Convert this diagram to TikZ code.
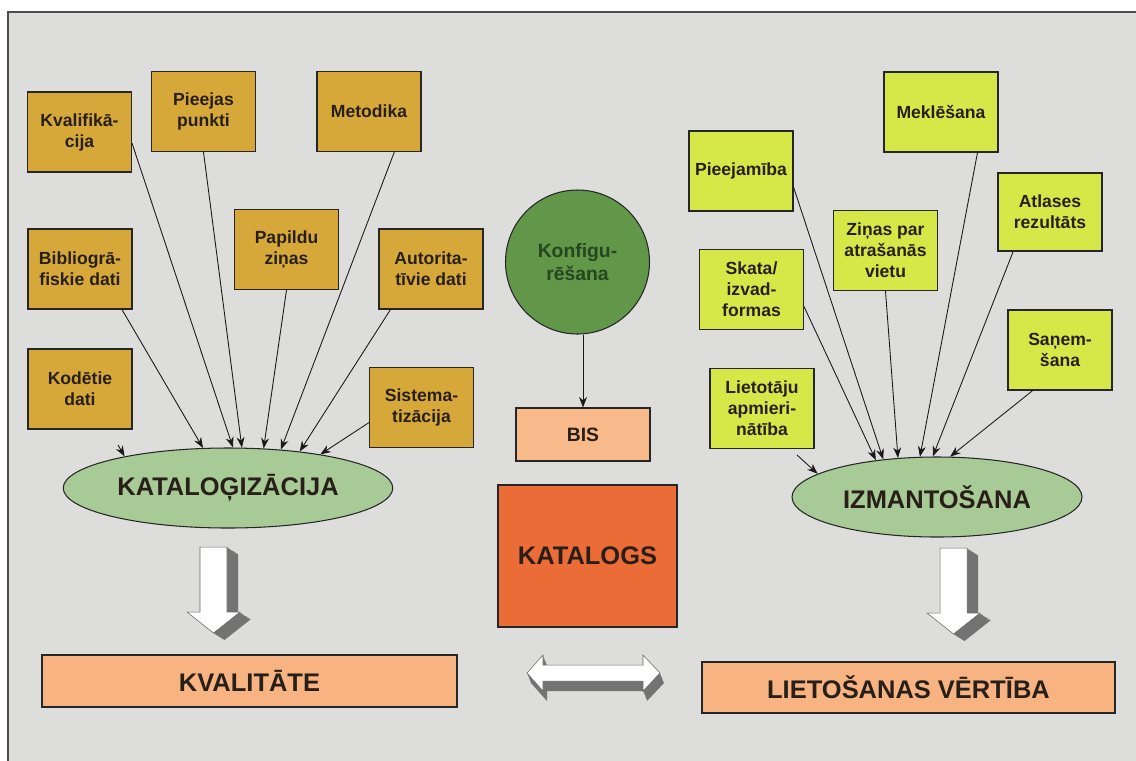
\documentclass[tikz,border=0pt]{standalone}
\usepackage{fontspec}
\setmainfont{Liberation Sans}
\usetikzlibrary{shapes.geometric,arrows.meta}

\definecolor{panelgray}{RGB}{221,221,219}
\definecolor{goldbox}{RGB}{214,168,58}
\definecolor{limebox}{RGB}{214,232,72}
\definecolor{ellgreen}{RGB}{168,202,150}
\definecolor{konfgreen}{RGB}{98,150,72}
\definecolor{konftext}{RGB}{38,70,32}
\definecolor{bisorange}{RGB}{248,186,138}
\definecolor{katorange}{RGB}{236,108,56}
\definecolor{resorange}{RGB}{247,180,130}
\definecolor{inkdark}{RGB}{40,32,24}

\tikzset{
  katbox/.style={draw=black!85, line width=0.6pt, fill=goldbox, minimum width=2.08cm,
    minimum height=1.6cm, align=center, inner sep=1pt, text=inkdark,
    font=\bfseries\fontsize{10}{12}\selectfont},
  izmbox/.style={katbox, fill=limebox},
  process/.style={ellipse, draw=black!85, line width=0.6pt, fill=ellgreen, minimum width=5.82cm,
    minimum height=1.6cm, text=inkdark, font=\bfseries\fontsize{14.5}{17}\selectfont},
  resbox/.style={draw=black!85, line width=0.6pt, fill=resorange, minimum width=8.3cm,
    minimum height=1.04cm, text=inkdark, font=\bfseries\fontsize{14.5}{17}\selectfont},
  feed/.style={-{Stealth[length=6pt,width=4.5pt]}, line width=0.5pt, black!90},
  arrowfront/.style={fill=white, draw=black!60, line width=0.3pt},
  arrowside/.style={fill=black!55}
}

% 3D block arrow pointing down, shaft top-left at (#1,#2)
\newcommand{\blockdown}[2]{%
  \foreach \s in {10,9,...,1}
    \fill[arrowside, shift={({#1+0.022*\s},{#2-0.014*\s})}]
      (0,0) -- (0.54,0) -- (0.54,-1.3) -- (0.8,-1.3) -- (0.27,-1.72) -- (-0.26,-1.3) -- (0,-1.3) -- cycle;
  \filldraw[arrowfront, shift={(#1,#2)}]
      (0,0) -- (0.54,0) -- (0.54,-1.3) -- (0.8,-1.3) -- (0.27,-1.72) -- (-0.26,-1.3) -- (0,-1.3) -- cycle;
}

\begin{document}
\begin{tikzpicture}
  \useasboundingbox (0,0) rectangle (22.72,-15.2);
  \fill[panelgray] (0.16,-0.24) rectangle (23,-15.5);
  \draw[black!70, line width=0.8pt] (0.16,-15.5) -- (0.16,-0.24) -- (23,-0.24);

  % left side
  \node[katbox] (kval) at (1.59,-2.64) {Kvalifikā-\\cija};
  \node[katbox] (piee) at (4.07,-2.23) {Pieejas\\punkti};
  \node[katbox] (meto) at (7.38,-2.23) {Metodika};
  \node[katbox] (papi) at (5.73,-4.99) {Papildu\\ziņas};
  \node[katbox] (bibl) at (1.60,-5.38) {Bibliogrā-\\fiskie dati};
  \node[katbox] (auto) at (8.62,-5.38) {Autorita-\\tīvie dati};
  \node[katbox] (kode) at (1.60,-7.78) {Kodētie\\dati};
  \node[katbox] (sist) at (8.43,-8.15) {Sistema-\\tizācija};
  \node[process] (kat) at (4.56,-9.76) {KATALOĢIZĀCIJA};
  \coordinate (kodetip) at (2.36,-8.90);

  \draw[feed] (kval.-12) -- (kat.83);
  \draw[feed] (piee.south) -- (kat.71);
  \draw[feed] (meto.-58) -- (kat.36);
  \draw[feed] (papi.south) -- (kat.48);
  \draw[feed] (bibl.-44) -- (kat.122);
  \draw[feed] (auto.-135) -- (kat.27);
  \draw[feed] (sist.196) -- (kat.20);
  \draw[feed] (kodetip) -- (kat.163);

  % middle
  \node[circle, draw=black!85, line width=0.6pt, fill=konfgreen, minimum size=2.88cm, align=center,
    text=konftext, font=\bfseries\fontsize{11}{13}\selectfont] (konf) at (11.55,-5.24) {Konfigu-\\rēšana};
  \node[draw=black!85, line width=0.6pt, fill=bisorange, minimum width=2.68cm, minimum height=1.06cm,
    text=inkdark, font=\bfseries\fontsize{11}{13}\selectfont] (bis) at (11.66,-8.69) {BIS};
  \node[draw=black!85, line width=0.6pt, fill=katorange, minimum width=3.58cm, minimum height=2.84cm,
    text=inkdark, font=\bfseries\fontsize{14.5}{17}\selectfont] (katalogs) at (11.75,-11.12) {KATALOGS};
  \draw[feed] (bis.north |- konf.south) -- (bis.north);

  % right side
  \node[izmbox] (piej) at (14.82,-3.42) {Pieejamība};
  \node[izmbox, minimum width=2.28cm] (mekl) at (18.82,-2.24) {Meklēšana};
  \node[izmbox] (zina) at (17.71,-5.01) {Ziņas par\\atrašanās\\vietu};
  \node[izmbox, minimum height=1.56cm] (atla) at (21.00,-4.24) {Atlases\\rezultāts};
  \node[izmbox] (skat) at (15.03,-5.79) {Skata/\\izvad-\\formas};
  \node[izmbox] (sane) at (21.20,-7.00) {Saņem-\\šana};
  \node[izmbox] (liet) at (15.24,-8.17) {Lietotāju\\apmieri-\\nātība};
  \node[process, minimum width=5.8cm] (izm) at (18.74,-9.94) {IZMANTOŠANA};
  \coordinate (liettip) at (15.94,-9.10);

  \draw[feed] (piej.-17) -- (izm.145);
  \draw[feed] (skat.-18) -- (izm.149);
  \draw[feed] (zina.south) -- (izm.135);
  \draw[feed] (mekl.-48) -- (izm.113);
  \draw[feed] (atla.-133) -- (izm.96);
  \draw[feed] (sane.-124) -- (izm.72);
  \draw[feed] (liettip) -- (izm.169);

  % results
  \node[resbox] (kval2) at (4.99,-13.62) {KVALITĀTE};
  \node[resbox, minimum width=8.26cm, minimum height=1.02cm] (vert) at (18.17,-13.75) {LIETOŠANAS VĒRTĪBA};

  \blockdown{4.0}{-10.94}
  \blockdown{18.8}{-10.96}

  % double arrow between the results
  \foreach \s in {10,9,...,1}
    \fill[arrowside, shift={({0.008*\s},{-0.02*\s})}]
      (10.54,-13.46) -- (10.86,-13.10) -- (10.86,-13.30) -- (12.86,-13.30) -- (12.86,-13.10)
      -- (13.20,-13.46) -- (12.86,-13.82) -- (12.86,-13.62) -- (10.86,-13.62) -- (10.86,-13.82) -- cycle;
  \filldraw[arrowfront]
      (10.54,-13.46) -- (10.86,-13.10) -- (10.86,-13.30) -- (12.86,-13.30) -- (12.86,-13.10)
      -- (13.20,-13.46) -- (12.86,-13.82) -- (12.86,-13.62) -- (10.86,-13.62) -- (10.86,-13.82) -- cycle;
\end{tikzpicture}
\end{document}
